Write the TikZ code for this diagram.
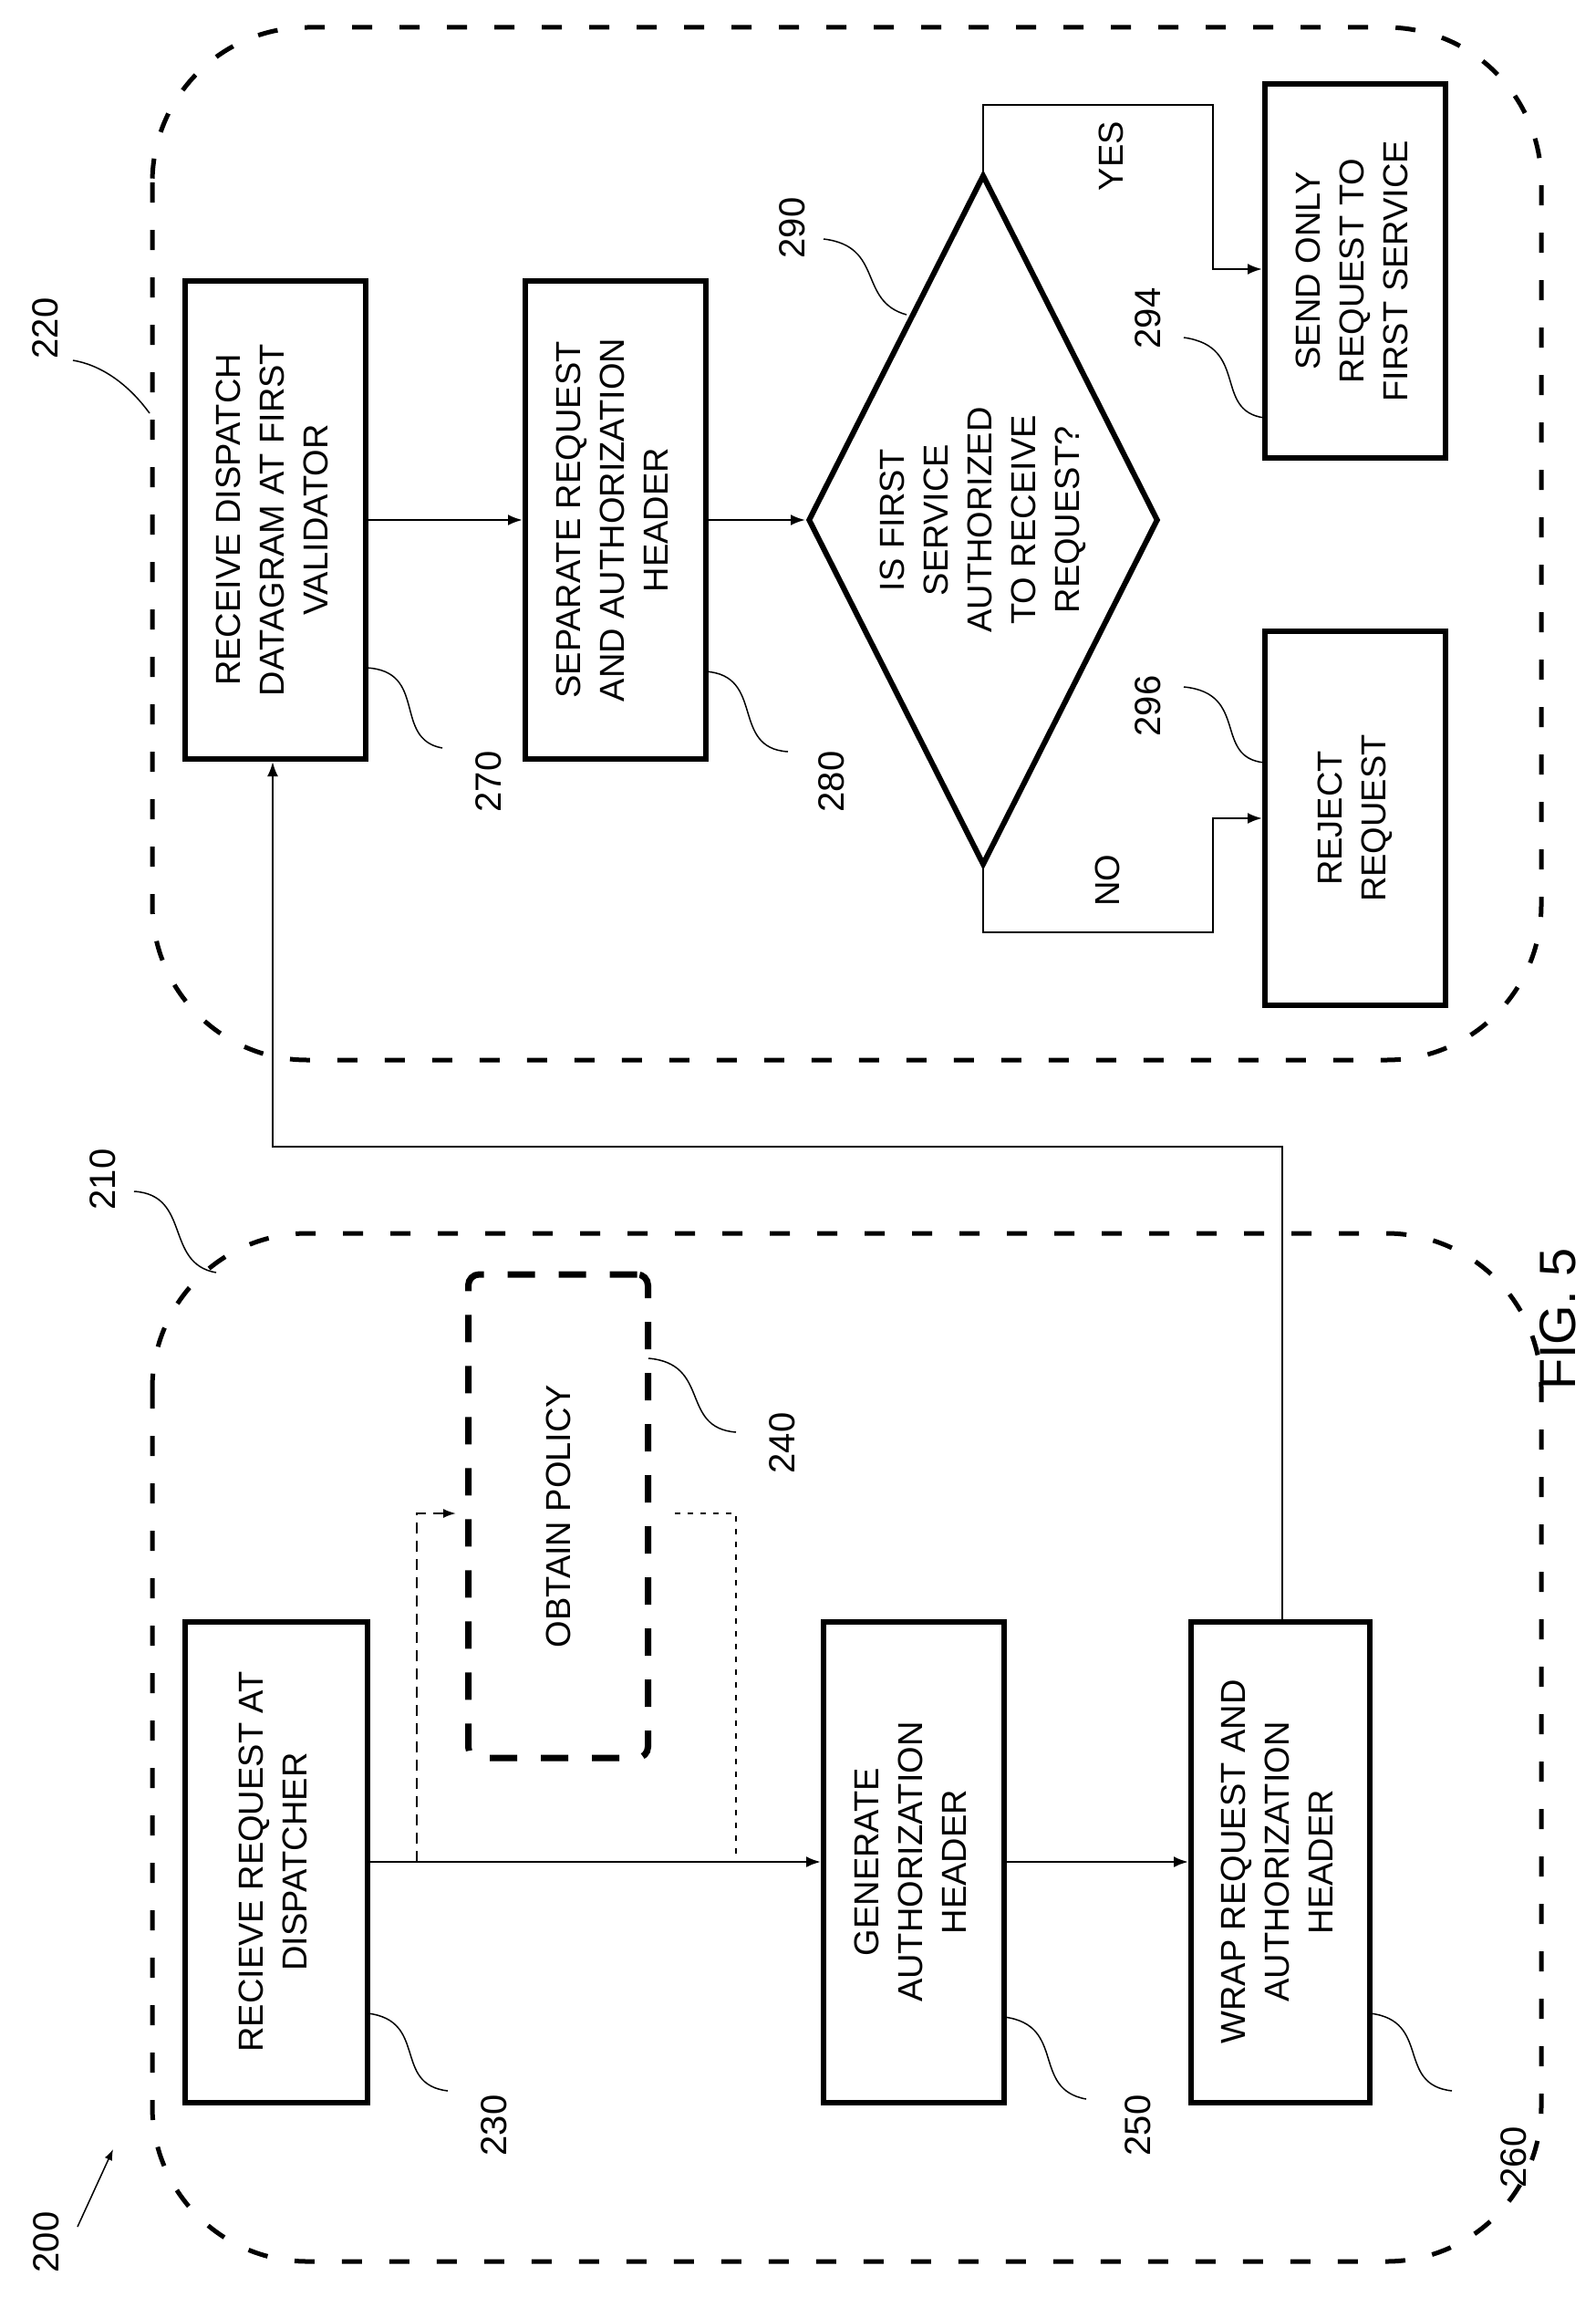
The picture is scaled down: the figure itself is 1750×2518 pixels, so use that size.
\documentclass[tikz,border=0pt]{standalone}
\usepackage{fontspec}
\setmainfont{Liberation Sans}
\usetikzlibrary{shapes.geometric,arrows.meta}
\begin{document}
\begin{tikzpicture}[x=1pt,y=-1pt,
  box/.style={draw,line width=6pt,minimum width=198pt,inner sep=0pt,font=\fontsize{38}{48}\selectfont,align=center},
  grp/.style={line width=5pt,dash pattern=on 22pt off 30pt,rounded corners=170pt},
  con/.style={line width=2.5pt},
  arr/.style={con,-{Latex[length=16pt,width=12pt]}},
  lead/.style={line width=1.5pt},
  lbl/.style={font=\fontsize{40}{40}\selectfont,rotate=90}]
\useasboundingbox (0,0) rectangle (1750,2518);
\fill[white] (0,0) rectangle (1750,2518);
% groups
\draw[grp] (167,30) rectangle (1690,1162);
\draw[grp] (167,1352) rectangle (1690,2479);
% right group nodes
\node[box,minimum height=524pt] (b270) at (302,570) {\rotatebox{90}{\begin{tabular}{c}RECEIVE DISPATCH\\DATAGRAM AT FIRST\\VALIDATOR\end{tabular}}};
\node[box,minimum height=524pt] (b280) at (675,570) {\rotatebox{90}{\begin{tabular}{c}SEPARATE REQUEST\\AND AUTHORIZATION\\HEADER\end{tabular}}};
\node[draw,diamond,aspect=0.507,line width=6pt,minimum width=384pt,minimum height=757pt,inner sep=0pt,font=\fontsize{38}{48}\selectfont] (d290) at (1078,570) {\rotatebox{90}{\begin{tabular}{c}IS FIRST\\SERVICE\\AUTHORIZED\\TO RECEIVE\\REQUEST?\end{tabular}}};
\node[box,minimum height=409pt] (b294) at (1486,297) {\rotatebox{90}{\begin{tabular}{c}SEND ONLY\\REQUEST TO\\FIRST SERVICE\end{tabular}}};
\node[box,minimum height=410pt] (b296) at (1486,897) {\rotatebox{90}{\begin{tabular}{c}REJECT\\REQUEST\end{tabular}}};
% left group nodes
\node[box,minimum height=527pt,minimum width=200pt] (b230) at (303,2041) {\rotatebox{90}{\begin{tabular}{c}RECIEVE REQUEST AT\\DISPATCHER\end{tabular}}};
\node[draw,line width=7pt,dash pattern=on 30pt off 26pt,rounded corners=12pt,minimum width=197pt,minimum height=530pt,inner sep=0pt,font=\fontsize{38}{48}\selectfont] (b240) at (612,1662) {\rotatebox{90}{OBTAIN POLICY}};
\node[box,minimum height=527pt] (b250) at (1002,2041) {\rotatebox{90}{\begin{tabular}{c}GENERATE\\AUTHORIZATION\\HEADER\end{tabular}}};
\node[box,minimum height=527pt,minimum width=196pt] (b260) at (1404,2041) {\rotatebox{90}{\begin{tabular}{c}WRAP REQUEST AND\\AUTHORIZATION\\HEADER\end{tabular}}};
% connectors right
\draw[arr] (b270) -- (b280);
\draw[arr] (b280) -- (d290);
\draw[arr] (d290.north) -- (1078,115) -- (1330,115) -- (1330,295) -- (b294.west |- 0,295);
\draw[arr] (d290.south) -- (1078,1022) -- (1330,1022) -- (1330,897) -- (b296.west |- 0,897);
\node[font=\fontsize{38}{38}\selectfont,rotate=90] (yes) at (1218,171) {YES};
\node[font=\fontsize{38}{38}\selectfont,rotate=90] (no) at (1214,965) {NO};
% connectors left
\draw[arr] (b230) -- (b250);
\draw[arr] (b250) -- (b260);
\coordinate (t1) at (1406,1257);
\coordinate (t2) at (299,1257);
\draw[arr] (b260.north -| t1) -- (t1) -- (t2) -- (b270.south -| t2);
\draw[line width=2pt,dash pattern=on 12pt off 8pt,-{Latex[length=14pt,width=10pt]}] (457,2041) -- (457,1659) -- (500,1659);
\draw[line width=2pt,dash pattern=on 6pt off 8pt] (740,1659) -- (807,1659) -- (807,2041);
% labels
\node[lbl] (l220) at (50,360) {220};
\draw[lead] (80,395) .. controls (110,400) and (140,420) .. (164,453);
\node[lbl] (l270) at (536,857) {270};
\draw[lead] (401,732) .. controls (470,735) and (430,810) .. (485,820);
\node[lbl] (l280) at (912,857) {280};
\draw[lead] (773,736) .. controls (840,740) and (800,820) .. (864,824);
\node[lbl] (l290) at (869,250) {290};
\draw[lead] (903,262) .. controls (970,270) and (940,330) .. (994,345);
\node[lbl] (l294) at (1259,349) {294};
\draw[lead] (1298,370) .. controls (1370,380) and (1330,450) .. (1386,458);
\node[lbl] (l296) at (1259,774) {296};
\draw[lead] (1298,753) .. controls (1370,760) and (1330,830) .. (1386,836);
\node[lbl] (l230) at (542,2330) {230};
\draw[lead] (403,2207) .. controls (470,2215) and (430,2285) .. (491,2292);
\node[lbl] (l250) at (1248,2330) {250};
\draw[lead] (1101,2211) .. controls (1170,2220) and (1130,2290) .. (1191,2301);
\node[lbl] (l260) at (1660,2365) {260};
\draw[lead] (1502,2207) .. controls (1570,2215) and (1530,2285) .. (1592,2292);
\node[lbl] (l240) at (858,1582) {240};
\draw[lead] (711,1489) .. controls (780,1495) and (745,1565) .. (807,1570);
\node[lbl] (l210) at (113,1293) {210};
\draw[lead] (147,1306) .. controls (210,1310) and (180,1385) .. (237,1395);
\node[lbl] (l200) at (51,2458) {200};
\draw[lead,-{Latex[length=12pt,width=9pt]}] (85,2441) -- (124,2356);
\node[font=\fontsize{56}{56}\selectfont,rotate=90] (fig) at (1708,1446) {FIG. 5};
\end{tikzpicture}
\end{document}
